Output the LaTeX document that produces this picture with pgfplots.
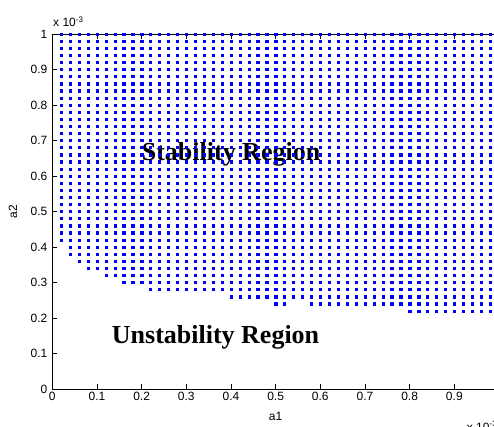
\documentclass[border=0pt]{standalone}
\usepackage{pgfplots}
\pgfplotsset{compat=1.18}
\usepackage{fontspec}
\setmainfont{Liberation Sans}
\newfontfamily\timesbf{Liberation Serif}
\definecolor{mblue}{RGB}{0,0,255}

\begin{document}
\begin{tikzpicture}
\begin{axis}[
    scale only axis,
    width=446.7pt, height=355pt,
    xmin=0, xmax=100,
    ymin=0, ymax=100,
    xtick={0,10,...,90},
    xticklabels={0,0.1,0.2,0.3,0.4,0.5,0.6,0.7,0.8,0.9},
    ytick={0,10,...,100},
    yticklabels={0,0.1,0.2,0.3,0.4,0.5,0.6,0.7,0.8,0.9,1},
    tick align=inside,
    major tick length=5pt,
    axis line style={black, line width=0.6pt},
    tick style={black, line width=0.6pt},
    tick label style={font=\fontsize{12}{14}\selectfont},
    yticklabel style={xshift=-1.5pt},
    /pgf/number format/assume math mode=true,
    xlabel={a1},
    xlabel style={font=\fontsize{12}{14}\selectfont, at={(axis description cs:0.5,-0.078)}, anchor=center},
    ylabel={a2},
    ylabel style={font=\fontsize{12}{14}\selectfont, at={(axis description cs:-0.088,0.5)}, anchor=center},
]
\addplot[only marks, mark=square*, mark size=1.1pt, mblue, mark options={draw=mblue, fill=mblue}] coordinates {
(2,100)(4,100)(6,100)(8,100)(10,100)(12,100)(14,100)(16,100)(18,100)(20,100)(22,100)(24,100)(26,100)(28,100)(30,100)(32,100)(34,100)(36,100)(38,100)(40,100)(42,100)(44,100)(46,100)(48,100)(50,100)(52,100)(54,100)(56,100)(58,100)(60,100)(62,100)(64,100)(66,100)(68,100)(70,100)(72,100)(74,100)(76,100)(78,100)(80,100)(82,100)(84,100)(86,100)(88,100)(90,100)(92,100)(94,100)(96,100)(98,100)
(2,98)(4,98)(6,98)(8,98)(10,98)(12,98)(14,98)(16,98)(18,98)(20,98)(22,98)(24,98)(26,98)(28,98)(30,98)(32,98)(34,98)(36,98)(38,98)(40,98)(42,98)(44,98)(46,98)(48,98)(50,98)(52,98)(54,98)(56,98)(58,98)(60,98)(62,98)(64,98)(66,98)(68,98)(70,98)(72,98)(74,98)(76,98)(78,98)(80,98)(82,98)(84,98)(86,98)(88,98)(90,98)(92,98)(94,98)(96,98)(98,98)
(2,96)(4,96)(6,96)(8,96)(10,96)(12,96)(14,96)(16,96)(18,96)(20,96)(22,96)(24,96)(26,96)(28,96)(30,96)(32,96)(34,96)(36,96)(38,96)(40,96)(42,96)(44,96)(46,96)(48,96)(50,96)(52,96)(54,96)(56,96)(58,96)(60,96)(62,96)(64,96)(66,96)(68,96)(70,96)(72,96)(74,96)(76,96)(78,96)(80,96)(82,96)(84,96)(86,96)(88,96)(90,96)(92,96)(94,96)(96,96)(98,96)
(2,94)(4,94)(6,94)(8,94)(10,94)(12,94)(14,94)(16,94)(18,94)(20,94)(22,94)(24,94)(26,94)(28,94)(30,94)(32,94)(34,94)(36,94)(38,94)(40,94)(42,94)(44,94)(46,94)(48,94)(50,94)(52,94)(54,94)(56,94)(58,94)(60,94)(62,94)(64,94)(66,94)(68,94)(70,94)(72,94)(74,94)(76,94)(78,94)(80,94)(82,94)(84,94)(86,94)(88,94)(90,94)(92,94)(94,94)(96,94)(98,94)
(2,92)(4,92)(6,92)(8,92)(10,92)(12,92)(14,92)(16,92)(18,92)(20,92)(22,92)(24,92)(26,92)(28,92)(30,92)(32,92)(34,92)(36,92)(38,92)(40,92)(42,92)(44,92)(46,92)(48,92)(50,92)(52,92)(54,92)(56,92)(58,92)(60,92)(62,92)(64,92)(66,92)(68,92)(70,92)(72,92)(74,92)(76,92)(78,92)(80,92)(82,92)(84,92)(86,92)(88,92)(90,92)(92,92)(94,92)(96,92)(98,92)
(2,90)(4,90)(6,90)(8,90)(10,90)(12,90)(14,90)(16,90)(18,90)(20,90)(22,90)(24,90)(26,90)(28,90)(30,90)(32,90)(34,90)(36,90)(38,90)(40,90)(42,90)(44,90)(46,90)(48,90)(50,90)(52,90)(54,90)(56,90)(58,90)(60,90)(62,90)(64,90)(66,90)(68,90)(70,90)(72,90)(74,90)(76,90)(78,90)(80,90)(82,90)(84,90)(86,90)(88,90)(90,90)(92,90)(94,90)(96,90)(98,90)
(2,88)(4,88)(6,88)(8,88)(10,88)(12,88)(14,88)(16,88)(18,88)(20,88)(22,88)(24,88)(26,88)(28,88)(30,88)(32,88)(34,88)(36,88)(38,88)(40,88)(42,88)(44,88)(46,88)(48,88)(50,88)(52,88)(54,88)(56,88)(58,88)(60,88)(62,88)(64,88)(66,88)(68,88)(70,88)(72,88)(74,88)(76,88)(78,88)(80,88)(82,88)(84,88)(86,88)(88,88)(90,88)(92,88)(94,88)(96,88)(98,88)
(2,86)(4,86)(6,86)(8,86)(10,86)(12,86)(14,86)(16,86)(18,86)(20,86)(22,86)(24,86)(26,86)(28,86)(30,86)(32,86)(34,86)(36,86)(38,86)(40,86)(42,86)(44,86)(46,86)(48,86)(50,86)(52,86)(54,86)(56,86)(58,86)(60,86)(62,86)(64,86)(66,86)(68,86)(70,86)(72,86)(74,86)(76,86)(78,86)(80,86)(82,86)(84,86)(86,86)(88,86)(90,86)(92,86)(94,86)(96,86)(98,86)
(2,84)(4,84)(6,84)(8,84)(10,84)(12,84)(14,84)(16,84)(18,84)(20,84)(22,84)(24,84)(26,84)(28,84)(30,84)(32,84)(34,84)(36,84)(38,84)(40,84)(42,84)(44,84)(46,84)(48,84)(50,84)(52,84)(54,84)(56,84)(58,84)(60,84)(62,84)(64,84)(66,84)(68,84)(70,84)(72,84)(74,84)(76,84)(78,84)(80,84)(82,84)(84,84)(86,84)(88,84)(90,84)(92,84)(94,84)(96,84)(98,84)
(2,82)(4,82)(6,82)(8,82)(10,82)(12,82)(14,82)(16,82)(18,82)(20,82)(22,82)(24,82)(26,82)(28,82)(30,82)(32,82)(34,82)(36,82)(38,82)(40,82)(42,82)(44,82)(46,82)(48,82)(50,82)(52,82)(54,82)(56,82)(58,82)(60,82)(62,82)(64,82)(66,82)(68,82)(70,82)(72,82)(74,82)(76,82)(78,82)(80,82)(82,82)(84,82)(86,82)(88,82)(90,82)(92,82)(94,82)(96,82)(98,82)
(2,80)(4,80)(6,80)(8,80)(10,80)(12,80)(14,80)(16,80)(18,80)(20,80)(22,80)(24,80)(26,80)(28,80)(30,80)(32,80)(34,80)(36,80)(38,80)(40,80)(42,80)(44,80)(46,80)(48,80)(50,80)(52,80)(54,80)(56,80)(58,80)(60,80)(62,80)(64,80)(66,80)(68,80)(70,80)(72,80)(74,80)(76,80)(78,80)(80,80)(82,80)(84,80)(86,80)(88,80)(90,80)(92,80)(94,80)(96,80)(98,80)
(2,78)(4,78)(6,78)(8,78)(10,78)(12,78)(14,78)(16,78)(18,78)(20,78)(22,78)(24,78)(26,78)(28,78)(30,78)(32,78)(34,78)(36,78)(38,78)(40,78)(42,78)(44,78)(46,78)(48,78)(50,78)(52,78)(54,78)(56,78)(58,78)(60,78)(62,78)(64,78)(66,78)(68,78)(70,78)(72,78)(74,78)(76,78)(78,78)(80,78)(82,78)(84,78)(86,78)(88,78)(90,78)(92,78)(94,78)(96,78)(98,78)
(2,76)(4,76)(6,76)(8,76)(10,76)(12,76)(14,76)(16,76)(18,76)(20,76)(22,76)(24,76)(26,76)(28,76)(30,76)(32,76)(34,76)(36,76)(38,76)(40,76)(42,76)(44,76)(46,76)(48,76)(50,76)(52,76)(54,76)(56,76)(58,76)(60,76)(62,76)(64,76)(66,76)(68,76)(70,76)(72,76)(74,76)(76,76)(78,76)(80,76)(82,76)(84,76)(86,76)(88,76)(90,76)(92,76)(94,76)(96,76)(98,76)
(2,74)(4,74)(6,74)(8,74)(10,74)(12,74)(14,74)(16,74)(18,74)(20,74)(22,74)(24,74)(26,74)(28,74)(30,74)(32,74)(34,74)(36,74)(38,74)(40,74)(42,74)(44,74)(46,74)(48,74)(50,74)(52,74)(54,74)(56,74)(58,74)(60,74)(62,74)(64,74)(66,74)(68,74)(70,74)(72,74)(74,74)(76,74)(78,74)(80,74)(82,74)(84,74)(86,74)(88,74)(90,74)(92,74)(94,74)(96,74)(98,74)
(2,72)(4,72)(6,72)(8,72)(10,72)(12,72)(14,72)(16,72)(18,72)(20,72)(22,72)(24,72)(26,72)(28,72)(30,72)(32,72)(34,72)(36,72)(38,72)(40,72)(42,72)(44,72)(46,72)(48,72)(50,72)(52,72)(54,72)(56,72)(58,72)(60,72)(62,72)(64,72)(66,72)(68,72)(70,72)(72,72)(74,72)(76,72)(78,72)(80,72)(82,72)(84,72)(86,72)(88,72)(90,72)(92,72)(94,72)(96,72)(98,72)
(2,70)(4,70)(6,70)(8,70)(10,70)(12,70)(14,70)(16,70)(18,70)(20,70)(22,70)(24,70)(26,70)(28,70)(30,70)(32,70)(34,70)(36,70)(38,70)(40,70)(42,70)(44,70)(46,70)(48,70)(50,70)(52,70)(54,70)(56,70)(58,70)(60,70)(62,70)(64,70)(66,70)(68,70)(70,70)(72,70)(74,70)(76,70)(78,70)(80,70)(82,70)(84,70)(86,70)(88,70)(90,70)(92,70)(94,70)(96,70)(98,70)
(2,68)(4,68)(6,68)(8,68)(10,68)(12,68)(14,68)(16,68)(18,68)(20,68)(22,68)(24,68)(26,68)(28,68)(30,68)(32,68)(34,68)(36,68)(38,68)(40,68)(42,68)(44,68)(46,68)(48,68)(50,68)(52,68)(54,68)(56,68)(58,68)(60,68)(62,68)(64,68)(66,68)(68,68)(70,68)(72,68)(74,68)(76,68)(78,68)(80,68)(82,68)(84,68)(86,68)(88,68)(90,68)(92,68)(94,68)(96,68)(98,68)
(2,66)(4,66)(6,66)(8,66)(10,66)(12,66)(14,66)(16,66)(18,66)(20,66)(22,66)(24,66)(26,66)(28,66)(30,66)(32,66)(34,66)(36,66)(38,66)(40,66)(42,66)(44,66)(46,66)(48,66)(50,66)(52,66)(54,66)(56,66)(58,66)(60,66)(62,66)(64,66)(66,66)(68,66)(70,66)(72,66)(74,66)(76,66)(78,66)(80,66)(82,66)(84,66)(86,66)(88,66)(90,66)(92,66)(94,66)(96,66)(98,66)
(2,64)(4,64)(6,64)(8,64)(10,64)(12,64)(14,64)(16,64)(18,64)(20,64)(22,64)(24,64)(26,64)(28,64)(30,64)(32,64)(34,64)(36,64)(38,64)(40,64)(42,64)(44,64)(46,64)(48,64)(50,64)(52,64)(54,64)(56,64)(58,64)(60,64)(62,64)(64,64)(66,64)(68,64)(70,64)(72,64)(74,64)(76,64)(78,64)(80,64)(82,64)(84,64)(86,64)(88,64)(90,64)(92,64)(94,64)(96,64)(98,64)
(2,62)(4,62)(6,62)(8,62)(10,62)(12,62)(14,62)(16,62)(18,62)(20,62)(22,62)(24,62)(26,62)(28,62)(30,62)(32,62)(34,62)(36,62)(38,62)(40,62)(42,62)(44,62)(46,62)(48,62)(50,62)(52,62)(54,62)(56,62)(58,62)(60,62)(62,62)(64,62)(66,62)(68,62)(70,62)(72,62)(74,62)(76,62)(78,62)(80,62)(82,62)(84,62)(86,62)(88,62)(90,62)(92,62)(94,62)(96,62)(98,62)
(2,60)(4,60)(6,60)(8,60)(10,60)(12,60)(14,60)(16,60)(18,60)(20,60)(22,60)(24,60)(26,60)(28,60)(30,60)(32,60)(34,60)(36,60)(38,60)(40,60)(42,60)(44,60)(46,60)(48,60)(50,60)(52,60)(54,60)(56,60)(58,60)(60,60)(62,60)(64,60)(66,60)(68,60)(70,60)(72,60)(74,60)(76,60)(78,60)(80,60)(82,60)(84,60)(86,60)(88,60)(90,60)(92,60)(94,60)(96,60)(98,60)
(2,58)(4,58)(6,58)(8,58)(10,58)(12,58)(14,58)(16,58)(18,58)(20,58)(22,58)(24,58)(26,58)(28,58)(30,58)(32,58)(34,58)(36,58)(38,58)(40,58)(42,58)(44,58)(46,58)(48,58)(50,58)(52,58)(54,58)(56,58)(58,58)(60,58)(62,58)(64,58)(66,58)(68,58)(70,58)(72,58)(74,58)(76,58)(78,58)(80,58)(82,58)(84,58)(86,58)(88,58)(90,58)(92,58)(94,58)(96,58)(98,58)
(2,56)(4,56)(6,56)(8,56)(10,56)(12,56)(14,56)(16,56)(18,56)(20,56)(22,56)(24,56)(26,56)(28,56)(30,56)(32,56)(34,56)(36,56)(38,56)(40,56)(42,56)(44,56)(46,56)(48,56)(50,56)(52,56)(54,56)(56,56)(58,56)(60,56)(62,56)(64,56)(66,56)(68,56)(70,56)(72,56)(74,56)(76,56)(78,56)(80,56)(82,56)(84,56)(86,56)(88,56)(90,56)(92,56)(94,56)(96,56)(98,56)
(2,54)(4,54)(6,54)(8,54)(10,54)(12,54)(14,54)(16,54)(18,54)(20,54)(22,54)(24,54)(26,54)(28,54)(30,54)(32,54)(34,54)(36,54)(38,54)(40,54)(42,54)(44,54)(46,54)(48,54)(50,54)(52,54)(54,54)(56,54)(58,54)(60,54)(62,54)(64,54)(66,54)(68,54)(70,54)(72,54)(74,54)(76,54)(78,54)(80,54)(82,54)(84,54)(86,54)(88,54)(90,54)(92,54)(94,54)(96,54)(98,54)
(2,52)(4,52)(6,52)(8,52)(10,52)(12,52)(14,52)(16,52)(18,52)(20,52)(22,52)(24,52)(26,52)(28,52)(30,52)(32,52)(34,52)(36,52)(38,52)(40,52)(42,52)(44,52)(46,52)(48,52)(50,52)(52,52)(54,52)(56,52)(58,52)(60,52)(62,52)(64,52)(66,52)(68,52)(70,52)(72,52)(74,52)(76,52)(78,52)(80,52)(82,52)(84,52)(86,52)(88,52)(90,52)(92,52)(94,52)(96,52)(98,52)
(2,50)(4,50)(6,50)(8,50)(10,50)(12,50)(14,50)(16,50)(18,50)(20,50)(22,50)(24,50)(26,50)(28,50)(30,50)(32,50)(34,50)(36,50)(38,50)(40,50)(42,50)(44,50)(46,50)(48,50)(50,50)(52,50)(54,50)(56,50)(58,50)(60,50)(62,50)(64,50)(66,50)(68,50)(70,50)(72,50)(74,50)(76,50)(78,50)(80,50)(82,50)(84,50)(86,50)(88,50)(90,50)(92,50)(94,50)(96,50)(98,50)
(2,48)(4,48)(6,48)(8,48)(10,48)(12,48)(14,48)(16,48)(18,48)(20,48)(22,48)(24,48)(26,48)(28,48)(30,48)(32,48)(34,48)(36,48)(38,48)(40,48)(42,48)(44,48)(46,48)(48,48)(50,48)(52,48)(54,48)(56,48)(58,48)(60,48)(62,48)(64,48)(66,48)(68,48)(70,48)(72,48)(74,48)(76,48)(78,48)(80,48)(82,48)(84,48)(86,48)(88,48)(90,48)(92,48)(94,48)(96,48)(98,48)
(2,46)(4,46)(6,46)(8,46)(10,46)(12,46)(14,46)(16,46)(18,46)(20,46)(22,46)(24,46)(26,46)(28,46)(30,46)(32,46)(34,46)(36,46)(38,46)(40,46)(42,46)(44,46)(46,46)(48,46)(50,46)(52,46)(54,46)(56,46)(58,46)(60,46)(62,46)(64,46)(66,46)(68,46)(70,46)(72,46)(74,46)(76,46)(78,46)(80,46)(82,46)(84,46)(86,46)(88,46)(90,46)(92,46)(94,46)(96,46)(98,46)
(2,44)(4,44)(6,44)(8,44)(10,44)(12,44)(14,44)(16,44)(18,44)(20,44)(22,44)(24,44)(26,44)(28,44)(30,44)(32,44)(34,44)(36,44)(38,44)(40,44)(42,44)(44,44)(46,44)(48,44)(50,44)(52,44)(54,44)(56,44)(58,44)(60,44)(62,44)(64,44)(66,44)(68,44)(70,44)(72,44)(74,44)(76,44)(78,44)(80,44)(82,44)(84,44)(86,44)(88,44)(90,44)(92,44)(94,44)(96,44)(98,44)
(2,42)(4,42)(6,42)(8,42)(10,42)(12,42)(14,42)(16,42)(18,42)(20,42)(22,42)(24,42)(26,42)(28,42)(30,42)(32,42)(34,42)(36,42)(38,42)(40,42)(42,42)(44,42)(46,42)(48,42)(50,42)(52,42)(54,42)(56,42)(58,42)(60,42)(62,42)(64,42)(66,42)(68,42)(70,42)(72,42)(74,42)(76,42)(78,42)(80,42)(82,42)(84,42)(86,42)(88,42)(90,42)(92,42)(94,42)(96,42)(98,42)
(4,40)(6,40)(8,40)(10,40)(12,40)(14,40)(16,40)(18,40)(20,40)(22,40)(24,40)(26,40)(28,40)(30,40)(32,40)(34,40)(36,40)(38,40)(40,40)(42,40)(44,40)(46,40)(48,40)(50,40)(52,40)(54,40)(56,40)(58,40)(60,40)(62,40)(64,40)(66,40)(68,40)(70,40)(72,40)(74,40)(76,40)(78,40)(80,40)(82,40)(84,40)(86,40)(88,40)(90,40)(92,40)(94,40)(96,40)(98,40)
(4,38)(6,38)(8,38)(10,38)(12,38)(14,38)(16,38)(18,38)(20,38)(22,38)(24,38)(26,38)(28,38)(30,38)(32,38)(34,38)(36,38)(38,38)(40,38)(42,38)(44,38)(46,38)(48,38)(50,38)(52,38)(54,38)(56,38)(58,38)(60,38)(62,38)(64,38)(66,38)(68,38)(70,38)(72,38)(74,38)(76,38)(78,38)(80,38)(82,38)(84,38)(86,38)(88,38)(90,38)(92,38)(94,38)(96,38)(98,38)
(6,36)(8,36)(10,36)(12,36)(14,36)(16,36)(18,36)(20,36)(22,36)(24,36)(26,36)(28,36)(30,36)(32,36)(34,36)(36,36)(38,36)(40,36)(42,36)(44,36)(46,36)(48,36)(50,36)(52,36)(54,36)(56,36)(58,36)(60,36)(62,36)(64,36)(66,36)(68,36)(70,36)(72,36)(74,36)(76,36)(78,36)(80,36)(82,36)(84,36)(86,36)(88,36)(90,36)(92,36)(94,36)(96,36)(98,36)
(8,34)(10,34)(12,34)(14,34)(16,34)(18,34)(20,34)(22,34)(24,34)(26,34)(28,34)(30,34)(32,34)(34,34)(36,34)(38,34)(40,34)(42,34)(44,34)(46,34)(48,34)(50,34)(52,34)(54,34)(56,34)(58,34)(60,34)(62,34)(64,34)(66,34)(68,34)(70,34)(72,34)(74,34)(76,34)(78,34)(80,34)(82,34)(84,34)(86,34)(88,34)(90,34)(92,34)(94,34)(96,34)(98,34)
(12,32)(14,32)(16,32)(18,32)(20,32)(22,32)(24,32)(26,32)(28,32)(30,32)(32,32)(34,32)(36,32)(38,32)(40,32)(42,32)(44,32)(46,32)(48,32)(50,32)(52,32)(54,32)(56,32)(58,32)(60,32)(62,32)(64,32)(66,32)(68,32)(70,32)(72,32)(74,32)(76,32)(78,32)(80,32)(82,32)(84,32)(86,32)(88,32)(90,32)(92,32)(94,32)(96,32)(98,32)
(16,30)(18,30)(20,30)(22,30)(24,30)(26,30)(28,30)(30,30)(32,30)(34,30)(36,30)(38,30)(40,30)(42,30)(44,30)(46,30)(48,30)(50,30)(52,30)(54,30)(56,30)(58,30)(60,30)(62,30)(64,30)(66,30)(68,30)(70,30)(72,30)(74,30)(76,30)(78,30)(80,30)(82,30)(84,30)(86,30)(88,30)(90,30)(92,30)(94,30)(96,30)(98,30)
(22,28)(24,28)(26,28)(28,28)(30,28)(32,28)(34,28)(36,28)(38,28)(40,28)(42,28)(44,28)(46,28)(48,28)(50,28)(52,28)(54,28)(56,28)(58,28)(60,28)(62,28)(64,28)(66,28)(68,28)(70,28)(72,28)(74,28)(76,28)(78,28)(80,28)(82,28)(84,28)(86,28)(88,28)(90,28)(92,28)(94,28)(96,28)(98,28)
(40,26)(42,26)(44,26)(46,26)(48,26)(50,26)(52,26)(54,26)(56,26)(58,26)(60,26)(62,26)(64,26)(66,26)(68,26)(70,26)(72,26)(74,26)(76,26)(78,26)(80,26)(82,26)(84,26)(86,26)(88,26)(90,26)(92,26)(94,26)(96,26)(98,26)
(50,24)(52,24)(58,24)(60,24)(62,24)(64,24)(66,24)(68,24)(70,24)(72,24)(74,24)(76,24)(78,24)(80,24)(82,24)(84,24)(86,24)(88,24)(90,24)(92,24)(94,24)(96,24)(98,24)
(80,22)(82,22)(84,22)(86,22)(88,22)(90,22)(92,22)(94,22)(96,22)(98,22)
};
\node[anchor=base west, inner sep=0pt, font=\timesbf\bfseries\fontsize{26}{30}\selectfont] at (axis cs:20,64.3) {Stability Region};
\node[anchor=base west, inner sep=0pt, font=\timesbf\bfseries\fontsize{26}{30}\selectfont] at (axis cs:13.3,12.9) {Unstability Region};
\end{axis}
\node[anchor=base west, inner sep=0pt, font=\fontsize{12}{14}\selectfont] at (0.7pt,362pt) {x 10\textsuperscript{-3}};
\node[anchor=base west, inner sep=0pt, font=\fontsize{12}{14}\selectfont] at (414.4pt,-42pt) {x 10\textsuperscript{-3}};
\pgfresetboundingbox
\path[use as bounding box] (-52.3pt,-38pt) rectangle (441.7pt,389pt);
\end{tikzpicture}
\end{document}
